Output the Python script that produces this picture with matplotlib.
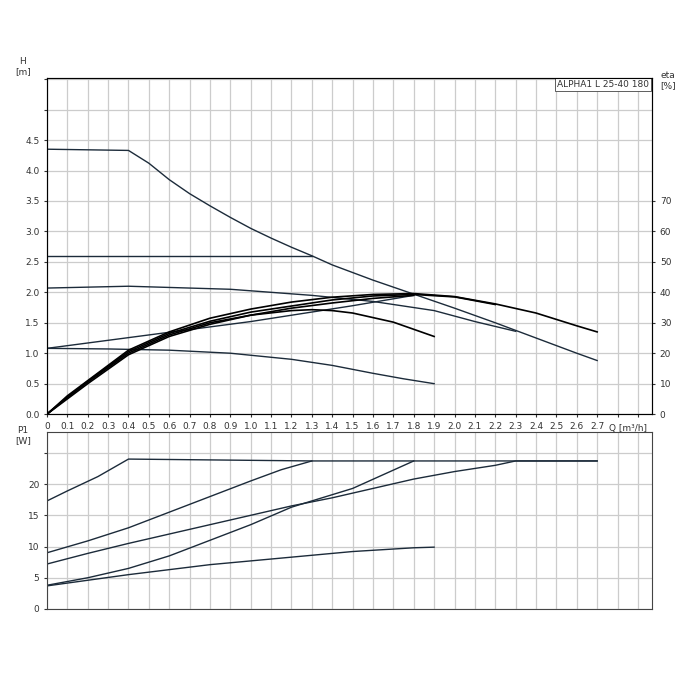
import numpy as np
import matplotlib.pyplot as plt
from matplotlib.ticker import MultipleLocator

# --- head curves H [m] vs Q [m3/h]
q_max = [0, 0.4, 0.5, 0.6, 0.7, 0.8, 0.9, 1.0, 1.1, 1.2, 1.3, 1.4, 1.6, 1.8, 2.0, 2.2, 2.4, 2.6, 2.7]
h_max = [4.35, 4.33, 4.12, 3.85, 3.62, 3.42, 3.23, 3.05, 2.89, 2.74, 2.6, 2.45, 2.2, 1.97, 1.74, 1.5, 1.25, 1.0, 0.88]
q_cp_hi = [0, 1.3]
h_cp_hi = [2.6, 2.6]
q_pp_hi = [0, 0.4, 0.9, 1.3, 1.6, 1.9, 2.1, 2.3]
h_pp_hi = [2.07, 2.1, 2.05, 1.95, 1.85, 1.7, 1.52, 1.36]
q_cp_lo = [0, 0.5, 1.0, 1.5, 1.8]
h_cp_lo = [1.08, 1.3, 1.52, 1.78, 1.95]
q_low = [0, 0.3, 0.6, 0.9, 1.2, 1.4, 1.6, 1.75, 1.9]
h_low = [1.08, 1.07, 1.05, 1.0, 0.9, 0.8, 0.67, 0.58, 0.5]

# --- efficiency curves eta [%]
q_eta_a = [0, 0.1, 0.2, 0.4, 0.6, 0.8, 1.0, 1.2, 1.4, 1.6, 1.8, 2.0, 2.2, 2.4, 2.6, 2.7]
eta_a = [0, 6, 11, 21, 27, 31.5, 34.5, 36.8, 38.4, 39.3, 39.6, 38.6, 36.2, 33.2, 29, 27]
q_eta_b = [0, 0.1, 0.2, 0.4, 0.6, 0.8, 1.0, 1.2, 1.3, 1.4, 1.5, 1.7, 1.9]
eta_b = [0, 5.5, 10.5, 20, 26, 30, 32.5, 34, 34.3, 34, 33.2, 30.2, 25.5]
q_eta_c = [0, 0.1, 0.2, 0.4, 0.6, 0.8, 1.0, 1.2, 1.4, 1.6, 1.8]
eta_c = [0, 5, 10, 19.5, 25.5, 29.5, 32.5, 34.8, 36.5, 38, 39]
q_eta_d = [0, 0.1, 0.2, 0.4, 0.6, 0.8, 1.0, 1.2, 1.4, 1.6, 1.8, 2.0, 2.2]
eta_d = [0, 5.5, 10.8, 20.5, 26.5, 30.5, 33.5, 35.5, 37.5, 38.8, 39.3, 38.5, 36]

# --- power curves P1 [W]
q_p1 = [0, 0.1, 0.25, 0.4, 1.3, 2.7]
p1_1 = [17.3, 18.9, 21.2, 24, 23.7, 23.7]
q_p2 = [0, 0.2, 0.4, 0.6, 0.8, 1.0, 1.15, 1.3]
p1_2 = [9, 10.9, 13, 15.5, 18, 20.5, 22.3, 23.7]
q_p3 = [0, 0.2, 0.4, 0.6, 0.8, 1.0, 1.2, 1.5, 1.65, 1.8]
p1_3 = [3.8, 5, 6.5, 8.5, 11, 13.5, 16.3, 19.3, 21.5, 23.7]
q_p4 = [0, 0.2, 0.4, 0.6, 0.8, 1.0, 1.2, 1.4, 1.6, 1.8, 2.0, 2.2, 2.3, 2.7]
p1_4 = [7.2, 8.9, 10.5, 12, 13.5, 15, 16.5, 17.8, 19.3, 20.8, 22, 23, 23.7, 23.7]
q_p5 = [0, 0.4, 0.8, 1.2, 1.5, 1.8, 1.9]
p1_5 = [3.7, 5.5, 7.1, 8.3, 9.2, 9.8, 9.9]

col = '#1c2b3a'
plt.rcParams['font.family'] = 'DejaVu Sans'
fig = plt.figure(figsize=(6.96, 6.96), dpi=100)
ax = fig.add_axes([0.0675, 0.405, 0.8695, 0.483])
ax2 = ax.twinx()
axp = fig.add_axes([0.0675, 0.125, 0.8695, 0.254])

xmax = 2.97
for a in (ax, axp):
    a.set_xlim(0, xmax)
    a.xaxis.set_minor_locator(MultipleLocator(0.1))
    a.grid(which='both', axis='x', color='#cccccc', lw=0.9)
    a.grid(which='major', axis='y', color='#cccccc', lw=0.9)
    a.set_axisbelow(True)
    for s in a.spines.values():
        s.set_color('#444444')
        s.set_linewidth(0.8)
    a.tick_params(labelsize=6.5, length=2, colors='#333333')

ax.set_ylim(0, 5.52)
ax.set_yticks(np.arange(0, 5.51, 0.5))
ax.set_yticklabels(['%.1f' % v if v < 4.6 else '' for v in np.arange(0, 5.51, 0.5)])
xt = np.round(np.arange(0, 2.95, 0.1), 1)
ax.set_xticks(xt)
ax.set_xticklabels(['0' if v == 0 else ('%.1f' % v if v <= 2.7 else '') for v in xt])
ax.tick_params(axis='x', which='minor', length=0)
ax2.set_ylim(0, 5.52 * 20)
ax2.set_yticks(np.arange(0, 71, 10))
ax2.tick_params(labelsize=6.5, length=2, colors='#333333')

axp.set_ylim(0, 28.3)
axp.set_yticks(np.arange(0, 26, 5))
axp.set_yticklabels(['0', '5', '10', '15', '20', ''])
axp.set_xticks(xt)
axp.tick_params(axis='x', labelbottom=False, length=0)

for q, h in [(q_max, h_max), (q_cp_hi, h_cp_hi), (q_pp_hi, h_pp_hi), (q_cp_lo, h_cp_lo), (q_low, h_low)]:
    ax.plot(q, h, color=col, lw=1.0)
for q, e in [(q_eta_a, eta_a), (q_eta_b, eta_b), (q_eta_c, eta_c), (q_eta_d, eta_d)]:
    ax2.plot(q, e, color='black', lw=1.2)
for q, p in [(q_p1, p1_1), (q_p2, p1_2), (q_p3, p1_3), (q_p4, p1_4), (q_p5, p1_5)]:
    axp.plot(q, p, color=col, lw=1.0)

fig.text(0.033, 0.89, 'H\n[m]', fontsize=6.5, ha='center', va='bottom', color='#333333')
fig.text(0.96, 0.87, 'eta\n[%]', fontsize=6.5, ha='center', va='bottom', color='#333333')
fig.text(0.033, 0.36, 'P1\n[W]', fontsize=6.5, ha='center', va='bottom', color='#333333')
ax.text(2.85, -0.16, 'Q [m³/h]', fontsize=6.5, ha='center', va='top', color='#333333')
ax.text(0.995, 0.995, 'ALPHA1 L 25-40 180', transform=ax.transAxes, fontsize=6.5,
        ha='right', va='top', color='#333333',
        bbox=dict(facecolor='white', edgecolor='#444444', lw=0.6, pad=1.5))

fig.savefig('out.png', dpi=100)
